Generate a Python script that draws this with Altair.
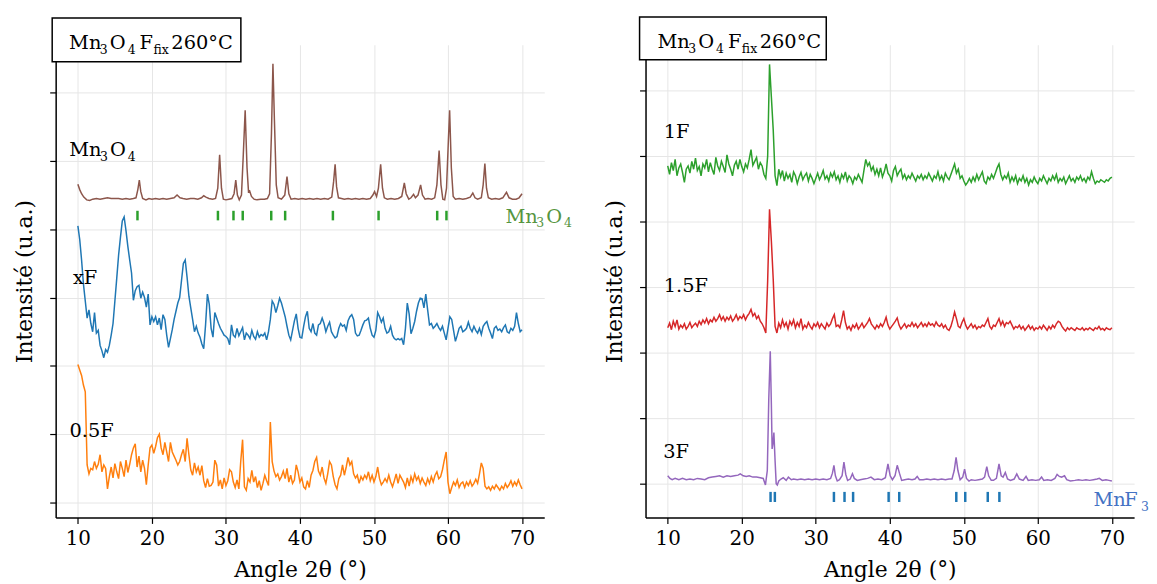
import altair as alt
import pandas as pd

FONT = "DejaVu Serif"

# ---------------- data ----------------
# common 2-theta sampling of the noisy patterns
angles = [
    10.0, 10.25, 10.5, 10.75, 11.0, 11.25, 11.5, 11.75, 12.0, 12.25, 12.5, 12.75, 13.0, 13.25, 13.5, 13.75, 14.0, 14.25, 14.5, 14.75,
    15.0, 15.25, 15.5, 15.75, 16.0, 16.25, 16.5, 16.75, 17.0, 17.25, 17.5, 17.75, 18.0, 18.25, 18.5, 18.75, 19.0, 19.25, 19.5, 19.75,
    20.0, 20.25, 20.5, 20.75, 21.0, 21.25, 21.5, 21.75, 22.0, 22.25, 22.5, 22.75, 23.0, 23.25, 23.5, 23.75, 24.0, 24.25, 24.5, 24.75,
    25.0, 25.25, 25.5, 25.75, 26.0, 26.25, 26.5, 26.75, 27.0, 27.25, 27.5, 27.75, 28.0, 28.25, 28.5, 28.75, 29.0, 29.25, 29.5, 29.75,
    30.0, 30.25, 30.5, 30.75, 31.0, 31.25, 31.5, 31.75, 32.0, 32.25, 32.5, 32.75, 33.0, 33.25, 33.5, 33.75, 34.0, 34.25, 34.5, 34.75,
    35.0, 35.25, 35.5, 35.75, 36.0, 36.25, 36.5, 36.75, 37.0, 37.25, 37.5, 37.75, 38.0, 38.25, 38.5, 38.75, 39.0, 39.25, 39.5, 39.75,
    40.0, 40.25, 40.5, 40.75, 41.0, 41.25, 41.5, 41.75, 42.0, 42.25, 42.5, 42.75, 43.0, 43.25, 43.5, 43.75, 44.0, 44.25, 44.5, 44.75,
    45.0, 45.25, 45.5, 45.75, 46.0, 46.25, 46.5, 46.75, 47.0, 47.25, 47.5, 47.75, 48.0, 48.25, 48.5, 48.75, 49.0, 49.25, 49.5, 49.75,
    50.0, 50.25, 50.5, 50.75, 51.0, 51.25, 51.5, 51.75, 52.0, 52.25, 52.5, 52.75, 53.0, 53.25, 53.5, 53.75, 54.0, 54.25, 54.5, 54.75,
    55.0, 55.25, 55.5, 55.75, 56.0, 56.25, 56.5, 56.75, 57.0, 57.25, 57.5, 57.75, 58.0, 58.25, 58.5, 58.75, 59.0, 59.25, 59.5, 59.75,
    60.0, 60.25, 60.5, 60.75, 61.0, 61.25, 61.5, 61.75, 62.0, 62.25, 62.5, 62.75, 63.0, 63.25, 63.5, 63.75, 64.0, 64.25, 64.5, 64.75,
    65.0, 65.25, 65.5, 65.75, 66.0, 66.25, 66.5, 66.75, 67.0, 67.25, 67.5, 67.75, 68.0, 68.25, 68.5, 68.75, 69.0, 69.25, 69.5, 69.75,
    70.0,
]

xF = [
    4.05, 3.85, 3.55, 3.20, 2.95, 2.70, 2.82, 2.62, 2.50, 2.78, 2.48, 2.52, 2.30, 2.22, 2.12, 2.24, 2.20, 2.30, 2.45, 2.62,
    2.95, 3.28, 3.62, 3.88, 4.12, 4.18, 3.98, 3.75, 3.55, 3.36, 2.96, 3.10, 3.16, 3.18, 2.99, 3.08, 3.00, 2.86, 3.05, 2.60,
    2.72, 2.65, 2.72, 2.60, 2.70, 2.53, 2.75, 2.68, 2.45, 2.27, 2.40, 2.53, 2.68, 2.80, 2.92, 3.00, 3.25, 3.50, 3.55, 3.30,
    3.02, 2.85, 2.68, 2.50, 2.58, 2.48, 2.42, 2.32, 2.25, 2.60, 3.05, 2.90, 2.55, 2.42, 2.78, 2.70, 2.62, 2.55, 2.50, 2.45,
    2.43, 2.40, 2.31, 2.60, 2.45, 2.42, 2.55, 2.44, 2.50, 2.56, 2.38, 2.48, 2.45, 2.40, 2.52, 2.43, 2.39, 2.50, 2.42, 2.46,
    2.44, 2.48, 2.38, 2.50, 2.68, 2.95, 2.90, 2.78, 2.88, 2.99, 2.92, 2.82, 2.72, 2.58, 2.45, 2.38, 2.52, 2.66, 2.76, 2.55,
    2.42, 2.41, 2.58, 2.72, 2.80, 2.55, 2.50, 2.62, 2.48, 2.45, 2.60, 2.62, 2.70, 2.62, 2.50, 2.58, 2.64, 2.50, 2.45, 2.41,
    2.43, 2.55, 2.62, 2.58, 2.60, 2.52, 2.66, 2.72, 2.75, 2.68, 2.48, 2.44, 2.45, 2.52, 2.60, 2.66, 2.67, 2.70, 2.55, 2.45,
    2.42, 2.52, 2.78, 2.72, 2.64, 2.70, 2.55, 2.48, 2.50, 2.58, 2.45, 2.40, 2.38, 2.40, 2.38, 2.40, 2.31, 2.55, 2.92, 2.76,
    2.47, 2.55, 2.65, 2.80, 2.92, 2.99, 2.98, 2.85, 3.05, 2.82, 2.60, 2.62, 2.55, 2.58, 2.62, 2.56, 2.52, 2.58, 2.48, 2.38,
    2.55, 2.72, 2.68, 2.52, 2.36, 2.45, 2.55, 2.58, 2.50, 2.52, 2.55, 2.64, 2.55, 2.50, 2.58, 2.52, 2.48, 2.55, 2.46, 2.58,
    2.62, 2.65, 2.55, 2.48, 2.40, 2.55, 2.58, 2.52, 2.54, 2.50, 2.56, 2.60, 2.50, 2.48, 2.55, 2.52, 2.58, 2.78, 2.62, 2.50,
    2.53,
]

f05 = [
    2.02, 1.94, 1.86, 1.72, 1.62, 0.55, 0.42, 0.50, 0.48, 0.60, 0.50, 0.56, 0.70, 0.45, 0.55, 0.50, 0.20, 0.38, 0.52, 0.36,
    0.57, 0.45, 0.35, 0.60, 0.50, 0.38, 0.62, 0.44, 0.56, 0.70, 0.80, 0.86, 0.52, 0.68, 0.45, 0.62, 0.50, 0.26, 0.55, 0.80,
    0.84, 0.72, 0.82, 0.95, 1.00, 0.80, 0.70, 0.88, 0.74, 0.60, 0.88, 0.74, 0.68, 0.62, 0.55, 0.60, 0.70, 0.78, 0.60, 0.94,
    0.70, 0.48, 0.40, 0.58, 0.45, 0.52, 0.40, 0.54, 0.32, 0.22, 0.35, 0.24, 0.25, 0.30, 0.62, 0.55, 0.24, 0.33, 0.20, 0.36,
    0.25, 0.32, 0.48, 0.45, 0.30, 0.22, 0.33, 0.20, 0.60, 0.92, 0.23, 0.18, 0.35, 0.30, 0.47, 0.30, 0.38, 0.22, 0.32, 0.18,
    0.28, 0.40, 0.32, 0.25, 1.18, 0.60, 0.46, 0.38, 0.42, 0.33, 0.38, 0.46, 0.35, 0.50, 0.30, 0.40, 0.28, 0.33, 0.55, 0.45,
    0.30, 0.36, 0.23, 0.20, 0.32, 0.22, 0.40, 0.47, 0.60, 0.66, 0.46, 0.40, 0.52, 0.36, 0.28, 0.42, 0.60, 0.55, 0.38, 0.26,
    0.20, 0.35, 0.40, 0.55, 0.40, 0.52, 0.66, 0.55, 0.60, 0.42, 0.36, 0.40, 0.28, 0.38, 0.33, 0.40, 0.35, 0.45, 0.32, 0.40,
    0.30, 0.38, 0.52, 0.35, 0.26, 0.30, 0.35, 0.30, 0.40, 0.30, 0.23, 0.32, 0.42, 0.28, 0.40, 0.35, 0.30, 0.22, 0.36, 0.24,
    0.38, 0.30, 0.42, 0.33, 0.38, 0.28, 0.36, 0.30, 0.25, 0.35, 0.28, 0.38, 0.30, 0.40, 0.45, 0.35, 0.38, 0.48, 0.62, 0.74,
    0.30, 0.13, 0.22, 0.30, 0.25, 0.33, 0.22, 0.28, 0.30, 0.22, 0.30, 0.25, 0.32, 0.24, 0.28, 0.34, 0.28, 0.42, 0.58, 0.50,
    0.24, 0.20, 0.23, 0.18, 0.24, 0.20, 0.26, 0.22, 0.18, 0.24, 0.20, 0.28, 0.22, 0.26, 0.32, 0.24, 0.30, 0.25, 0.33, 0.26,
    0.20,
]

f1 = [
    4.85, 4.72, 4.90, 4.78, 4.95, 4.70, 4.82, 4.88, 4.75, 4.60, 4.80, 4.85, 4.74, 4.92, 4.80, 4.97, 4.78, 4.84, 4.70, 4.88,
    4.82, 4.95, 4.76, 4.90, 4.80, 4.72, 4.98, 4.85, 4.78, 4.92, 4.84, 4.75, 5.02, 4.88, 4.80, 4.70, 4.86, 4.92, 4.80, 4.95,
    4.84, 4.76, 4.88, 4.82, 4.95, 5.10, 4.86, 4.92, 4.98, 4.80, 4.90, 4.85, 4.72, 4.66, 5.00, 6.40, 5.90, 5.40, 4.70, 4.55,
    4.80, 4.68, 4.78, 4.62, 4.74, 4.66, 4.72, 4.60, 4.76, 4.70, 4.58, 4.68, 4.75, 4.64, 4.70, 4.74, 4.62, 4.72, 4.66, 4.58,
    4.66, 4.74, 4.64, 4.70, 4.78, 4.65, 4.70, 4.62, 4.74, 4.68, 4.76, 4.64, 4.70, 4.60, 4.72, 4.66, 4.76, 4.62, 4.70, 4.66,
    4.58, 4.68, 4.64, 4.72, 4.66, 4.60, 4.78, 4.95, 4.85, 4.90, 4.78, 4.84, 4.72, 4.80, 4.70, 4.82, 4.68, 4.76, 4.88, 4.74,
    4.70, 4.62, 4.78, 4.84, 4.70, 4.76, 4.80, 4.66, 4.72, 4.64, 4.70, 4.66, 4.74, 4.68, 4.62, 4.70, 4.66, 4.72, 4.64, 4.70,
    4.66, 4.74, 4.68, 4.62, 4.70, 4.66, 4.76, 4.64, 4.70, 4.62, 4.74, 4.68, 4.64, 4.72, 4.80, 4.88, 4.74, 4.80, 4.66, 4.70,
    4.62, 4.56, 4.60, 4.66, 4.60, 4.68, 4.62, 4.72, 4.64, 4.70, 4.76, 4.62, 4.58, 4.68, 4.64, 4.72, 4.66, 4.74, 4.82, 4.88,
    4.72, 4.64, 4.70, 4.66, 4.74, 4.60, 4.68, 4.62, 4.70, 4.58, 4.66, 4.62, 4.70, 4.60, 4.66, 4.56, 4.64, 4.60, 4.68, 4.62,
    4.58, 4.66, 4.62, 4.70, 4.64, 4.58, 4.66, 4.62, 4.70, 4.64, 4.72, 4.60, 4.66, 4.62, 4.68, 4.58, 4.64, 4.70, 4.62, 4.66,
    4.60, 4.68, 4.64, 4.70, 4.62, 4.66, 4.60, 4.68, 4.64, 4.76, 4.66, 4.58, 4.62, 4.60, 4.64, 4.62, 4.60, 4.64, 4.62, 4.66,
    4.68,
]

f15 = [
    2.38, 2.45, 2.35, 2.48, 2.40, 2.50, 2.36, 2.42, 2.38, 2.44, 2.36, 2.40, 2.46, 2.38, 2.42, 2.45, 2.40, 2.48, 2.43, 2.50,
    2.45, 2.52, 2.44, 2.50, 2.47, 2.54, 2.48, 2.52, 2.58, 2.50, 2.55, 2.48, 2.54, 2.50, 2.56, 2.48, 2.52, 2.58, 2.50, 2.55,
    2.52, 2.58, 2.50, 2.56, 2.60, 2.66, 2.56, 2.60, 2.52, 2.56, 2.48, 2.44, 2.38, 2.30, 3.10, 4.19, 3.70, 3.12, 2.40, 2.30,
    2.45, 2.38, 2.50, 2.40, 2.46, 2.36, 2.48, 2.42, 2.50, 2.38, 2.46, 2.40, 2.52, 2.36, 2.42, 2.38, 2.46, 2.40, 2.36, 2.44,
    2.40, 2.46, 2.38, 2.44, 2.40, 2.36, 2.45, 2.40, 2.44, 2.52, 2.58, 2.40, 2.42, 2.38, 2.50, 2.64, 2.46, 2.36, 2.40, 2.34,
    2.42, 2.38, 2.44, 2.36, 2.40, 2.45, 2.38, 2.42, 2.46, 2.52, 2.44, 2.40, 2.36, 2.42, 2.38, 2.44, 2.40, 2.46, 2.54, 2.42,
    2.36, 2.40, 2.44, 2.48, 2.53, 2.42, 2.36, 2.40, 2.44, 2.38, 2.42, 2.40, 2.46, 2.40, 2.44, 2.38, 2.42, 2.46, 2.40, 2.44,
    2.40, 2.46, 2.42, 2.44, 2.40, 2.47, 2.42, 2.40, 2.44, 2.38, 2.42, 2.36, 2.34, 2.40, 2.50, 2.62, 2.52, 2.40, 2.38, 2.46,
    2.52, 2.42, 2.36, 2.40, 2.44, 2.38, 2.42, 2.36, 2.40, 2.38, 2.42, 2.40, 2.46, 2.52, 2.40, 2.36, 2.42, 2.40, 2.46, 2.52,
    2.42, 2.48, 2.40, 2.46, 2.44, 2.48, 2.42, 2.36, 2.40, 2.38, 2.42, 2.36, 2.40, 2.34, 2.38, 2.42, 2.36, 2.40, 2.34, 2.38,
    2.36, 2.40, 2.36, 2.42, 2.38, 2.34, 2.40, 2.36, 2.42, 2.38, 2.44, 2.48, 2.46, 2.40, 2.36, 2.33, 2.38, 2.35, 2.38, 2.36,
    2.34, 2.38, 2.36, 2.35, 2.38, 2.34, 2.37, 2.35, 2.38, 2.36, 2.34, 2.38, 2.36, 2.40, 2.35, 2.37, 2.34, 2.38, 2.36, 2.35,
    2.38,
]

# crystalline patterns (finer sampling around the peaks)
mn3o4_x = [
    10.0, 10.25, 10.5, 10.8, 11.2, 11.6, 12.0, 12.5, 13.0, 13.5, 14.0, 14.5, 15.0, 15.5, 16.0, 16.5, 17.0, 17.5, 17.85, 18.1,
    18.3, 18.5, 18.75, 19.2, 19.6, 20.0, 20.5, 21.0, 21.5, 22.0, 22.5, 23.0, 23.4, 23.8, 24.2, 24.7, 25.2, 25.7, 26.2, 26.7,
    27.0, 27.3, 27.7, 28.2, 28.6, 28.9, 29.15, 29.4, 29.65, 30.0, 30.4, 30.8, 31.1, 31.33, 31.55, 31.8, 32.1, 32.35, 32.6, 32.85,
    33.05, 33.2, 33.45, 33.8, 34.2, 34.7, 35.2, 35.6, 35.9, 36.15, 36.35, 36.55, 36.8, 37.05, 37.5, 37.95, 38.25, 38.5, 38.8, 39.3,
    39.8, 40.3, 40.8, 41.3, 41.8, 42.3, 42.8, 43.3, 43.8, 44.3, 44.55, 44.75, 44.95, 45.2, 45.6, 46.0, 46.5, 47.0, 47.5, 48.0,
    48.5, 49.0, 49.5, 49.85, 50.08, 50.35, 50.6, 50.9, 51.15, 51.4, 51.8, 52.3, 52.8, 53.3, 53.75, 54.1, 54.35, 54.7, 55.0, 55.35,
    55.6, 55.95, 56.3, 56.55, 56.9, 57.3, 57.8, 58.2, 58.5, 58.8, 59.05, 59.3, 59.55, 59.8, 60.05, 60.22, 60.45, 60.7, 61.0, 61.5,
    62.0, 62.5, 63.0, 63.35, 63.65, 64.0, 64.5, 64.75, 64.98, 65.2, 65.45, 65.9, 66.4, 66.9, 67.4, 67.9, 68.25, 68.7, 69.2, 69.6,
    70.0,
]
mn3o4_y = [
    4.66, 4.58, 4.52, 4.47, 4.43, 4.42, 4.44, 4.45, 4.44, 4.45, 4.46, 4.45, 4.45, 4.45, 4.44, 4.45, 4.44, 4.45, 4.46, 4.58,
    4.72, 4.55, 4.45, 4.43, 4.45, 4.44, 4.45, 4.44, 4.45, 4.44, 4.45, 4.46, 4.50, 4.46, 4.45, 4.44, 4.45, 4.45, 4.44, 4.46,
    4.49, 4.47, 4.45, 4.44, 4.45, 4.60, 5.09, 4.60, 4.44, 4.43, 4.44, 4.45, 4.52, 4.72, 4.50, 4.43, 4.50, 5.10, 5.74, 4.90,
    4.55, 4.56, 4.48, 4.44, 4.43, 4.44, 4.44, 4.45, 4.52, 5.40, 6.42, 5.60, 4.65, 4.46, 4.44, 4.50, 4.77, 4.52, 4.44, 4.45,
    4.44, 4.45, 4.44, 4.45, 4.44, 4.45, 4.44, 4.45, 4.44, 4.47, 4.70, 4.95, 4.62, 4.46, 4.45, 4.44, 4.45, 4.44, 4.45, 4.44,
    4.45, 4.44, 4.45, 4.50, 4.55, 4.48, 4.60, 4.95, 4.60, 4.46, 4.44, 4.45, 4.44, 4.45, 4.48, 4.68, 4.52, 4.44, 4.46, 4.51,
    4.46, 4.50, 4.65, 4.50, 4.44, 4.45, 4.44, 4.46, 4.65, 5.15, 4.65, 4.44, 4.43, 4.60, 5.30, 5.74, 4.90, 4.48, 4.44, 4.45,
    4.44, 4.45, 4.47, 4.53, 4.46, 4.44, 4.46, 4.65, 4.96, 4.60, 4.46, 4.44, 4.45, 4.44, 4.46, 4.54, 4.46, 4.44, 4.44, 4.46,
    4.52,
]

f3_x = [
    10.0, 10.3, 10.6, 11.0, 11.5, 12.0, 12.5, 13.0, 13.5, 14.0, 14.5, 15.0, 15.5, 16.0, 16.5, 17.0, 17.5, 18.0, 18.5, 19.0,
    19.5, 19.8, 20.2, 20.6, 21.0, 21.5, 22.0, 22.5, 22.9, 23.2, 23.45, 23.65, 23.85, 24.0, 24.1, 24.22, 24.34, 24.5, 24.65, 24.8,
    25.0, 25.3, 25.6, 26.0, 26.3, 26.7, 27.0, 27.5, 28.0, 28.5, 29.0, 29.5, 30.0, 30.5, 31.0, 31.5, 32.0, 32.25, 32.45, 32.65,
    32.9, 33.2, 33.55, 33.8, 34.05, 34.3, 34.65, 34.95, 35.2, 35.6, 36.0, 36.5, 37.0, 37.45, 37.9, 38.4, 38.9, 39.4, 39.75, 40.05,
    40.35, 40.7, 41.0, 41.3, 41.6, 42.0, 42.5, 43.0, 43.4, 43.7, 44.0, 44.5, 45.0, 45.5, 46.0, 46.5, 47.0, 47.5, 48.0, 48.4,
    48.7, 48.95, 49.2, 49.5, 49.85, 50.1, 50.35, 50.7, 51.0, 51.5, 52.0, 52.5, 52.8, 53.1, 53.35, 53.7, 54.0, 54.4, 54.75, 55.05,
    55.3, 55.6, 55.9, 56.3, 56.8, 57.15, 57.5, 58.0, 58.4, 58.7, 59.2, 59.7, 60.2, 60.5, 60.8, 61.3, 61.8, 62.3, 62.6, 62.9,
    63.2, 63.6, 63.9, 64.4, 65.0, 65.5, 66.0, 66.5, 67.0, 67.5, 68.0, 68.3, 68.7, 69.2, 69.6, 70.0,
]
f3_y = [
    0.12, 0.08, 0.06, 0.08, 0.06, 0.08, 0.06, 0.07, 0.06, 0.08, 0.07, 0.06, 0.09, 0.10, 0.11, 0.12, 0.10, 0.12, 0.11, 0.12,
    0.13, 0.15, 0.12, 0.11, 0.12, 0.10, 0.10, 0.09, 0.08, -0.02, 0.20, 1.30, 2.02, 1.20, 0.53, 0.62, 0.78, 0.35, 0.00, -0.02,
    0.04, 0.07, 0.09, 0.05, 0.10, 0.06, 0.07, 0.06, 0.07, 0.06, 0.07, 0.06, 0.07, 0.06, 0.07, 0.06, 0.08, 0.16, 0.28, 0.12,
    0.04, 0.06, 0.12, 0.33, 0.14, 0.05, 0.07, 0.15, 0.08, 0.05, 0.06, 0.07, 0.08, 0.10, 0.06, 0.07, 0.06, 0.09, 0.30, 0.12,
    0.06, 0.12, 0.28, 0.16, 0.05, 0.06, 0.07, 0.06, 0.07, 0.11, 0.06, 0.06, 0.07, 0.06, 0.07, 0.06, 0.07, 0.06, 0.07, 0.07,
    0.20, 0.40, 0.20, 0.06, 0.10, 0.22, 0.08, 0.04, 0.06, 0.05, 0.06, 0.07, 0.10, 0.26, 0.12, 0.05, 0.05, 0.08, 0.30, 0.12,
    0.10, 0.17, 0.07, 0.05, 0.07, 0.15, 0.07, 0.05, 0.11, 0.05, 0.06, 0.05, 0.06, 0.10, 0.05, 0.06, 0.05, 0.08, 0.14, 0.11,
    0.10, 0.12, 0.06, 0.04, 0.05, 0.06, 0.05, 0.06, 0.05, 0.06, 0.07, 0.08, 0.05, 0.06, 0.05, 0.04,
]

# reference reflection positions (tick markers)
mn3o4_ref = [18.05, 28.92, 31.02, 32.27, 36.12, 38.0, 44.45, 50.62, 58.54, 59.79]
mnf3_ref = [23.89, 24.47, 32.45, 33.88, 35.04, 39.84, 41.27, 48.98, 50.19, 53.23, 54.8]

left_series = ["Mn3O4", "xF", "0.5F"]
left_colors = ["#8c564b", "#1f77b4", "#ff7f0e"]
right_series = ["1F", "1.5F", "3F"]
right_colors = ["#2ca02c", "#d62728", "#9467bd"]

# ---------------- build tables ----------------
def series_df(xs, ys, name):
    assert len(xs) == len(ys), (name, len(xs), len(ys))
    return pd.DataFrame({"a": xs, "v": ys, "s": name})

left_df = pd.concat([
    series_df(mn3o4_x, mn3o4_y, "Mn3O4"),
    series_df(angles, xF, "xF"),
    series_df(angles, f05, "0.5F"),
])
right_df = pd.concat([
    series_df(angles, f1, "1F"),
    series_df(angles, f15, "1.5F"),
    series_df(f3_x, f3_y, "3F"),
])

W, H = 492, 476
XS = alt.Scale(domain=[7, 73], nice=False, zero=False)
YS_L = alt.Scale(domain=[-0.218, 6.70], nice=False, zero=False)
YS_R = alt.Scale(domain=[-0.516, 6.70], nice=False, zero=False)

XAX = alt.Axis(values=[10, 20, 30, 40, 50, 60, 70], title="Angle 2θ (°)", grid=True,
               labelPadding=5, titlePadding=11, labelFlush=False)
YAX = alt.Axis(values=[0, 1, 2, 3, 4, 5, 6], title="Intensité (u.a.)", grid=True,
               labels=False, titlePadding=13)

SUB = 12.5
BIG = 19.5


def xenc():
    return alt.X("a:Q", scale=XS, axis=XAX)


def yenc(ys):
    return alt.Y("v:Q", scale=ys, axis=YAX)


def rich_label(x, y, pieces, color, ys):
    out = []
    for text, dx, sub in pieces:
        out.append(
            alt.Chart(alt.Data(values=[{"a": x, "v": y, "t": text}]))
            .mark_text(align="left", baseline="alphabetic", dx=dx, dy=12 if sub else 7,
                       fontSize=SUB if sub else BIG, font=FONT, color=color)
            .encode(x=xenc(), y=yenc(ys), text="t:N")
        )
    return out


def title_box(x0, x1, y0, y1, tx, ty):
    pieces = [("Mn", 0, False), ("3", 31, True), ("O", 41, False), ("4", 59, True),
              ("F", 71, False), ("fix", 85, True), ("260°C", 103, False)]
    out = [
        alt.Chart(alt.Data(values=[{}]))
        .mark_rect(fill="white", stroke="black", strokeWidth=1.5)
        .encode(x=alt.value(x0), x2=alt.value(x1), y=alt.value(y0), y2=alt.value(y1))
    ]
    for text, dx, sub in pieces:
        out.append(
            alt.Chart(alt.Data(values=[{}]))
            .mark_text(align="left", baseline="alphabetic", fontSize=SUB if sub else BIG,
                       font=FONT, color="black")
            .encode(x=alt.value(tx + dx), y=alt.value(ty + (5 if sub else 0)), text=alt.value(text))
        )
    return out


def ref_ticks(pos, lo, hi, color, ys):
    df = pd.DataFrame({"a": pos, "v": lo, "v2": hi})
    return (
        alt.Chart(df).mark_rule(color=color, strokeWidth=2.5)
        .encode(x=xenc(), y=yenc(ys), y2="v2:Q")
    )


MN3O4_PIECES = [("Mn", 0, False), ("3", 31, True), ("O", 41, False), ("4", 59, True)]
MNF3_PIECES = [("Mn", 0, False), ("F", 31, False), ("3", 48, True)]

left_lines = alt.Chart(left_df).mark_line(strokeWidth=1.5).encode(
    x=xenc(), y=yenc(YS_L),
    color=alt.Color("s:N", scale=alt.Scale(domain=left_series, range=left_colors), legend=None),
)
right_lines = alt.Chart(right_df).mark_line(strokeWidth=1.5).encode(
    x=xenc(), y=yenc(YS_R),
    color=alt.Color("s:N", scale=alt.Scale(domain=right_series, range=right_colors), legend=None),
)

left_layers = [left_lines, ref_ticks(mn3o4_ref, 4.13, 4.27, "#2ca02c", YS_L)]
left_layers += rich_label(8.83, 5.17, MN3O4_PIECES, "black", YS_L)
left_layers += rich_label(9.33, 3.30, [("xF", 0, False)], "black", YS_L)
left_layers += rich_label(8.87, 1.06, [("0.5F", 0, False)], "black", YS_L)
left_layers += rich_label(67.76, 4.20, MN3O4_PIECES, "#56953f", YS_L)
left_layers += title_box(-3.5, 186.5, -27, 17, 13.5, 4)

right_layers = [right_lines, ref_ticks(mnf3_ref, -0.28, -0.126, "#1f77b4", YS_R)]
right_layers += rich_label(9.46, 5.38, [("1F", 0, False)], "black", YS_R)
right_layers += rich_label(9.46, 3.03, [("1.5F", 0, False)], "black", YS_R)
right_layers += rich_label(9.40, 0.50, [("3F", 0, False)], "black", YS_R)
right_layers += rich_label(67.5, -0.23, MNF3_PIECES, "#4472c4", YS_R)
right_layers += title_box(-6, 182, -28, 15, 12, 3)

left = alt.layer(*left_layers).properties(width=W, height=H)
right = alt.layer(*right_layers).properties(width=W, height=H)

chart = (
    alt.hconcat(left, right, spacing=102, bounds="flush")
    .resolve_scale(color="independent", x="independent", y="independent")
    .properties(padding={"left": 5, "top": 6, "right": 0, "bottom": 0})
    .configure_view(stroke=None)
    .configure_axis(
        domainColor="black", domainWidth=1.5, tickColor="black", tickWidth=1.2, tickSize=6,
        gridColor="#e6e6e6", gridWidth=1, labelFont=FONT, labelFontSize=20, labelColor="black",
        titleFont=FONT, titleFontSize=22, titleFontWeight="normal", titleColor="black",
    )
)

chart.save("out.html", embed_options={"renderer": "svg", "actions": False})
